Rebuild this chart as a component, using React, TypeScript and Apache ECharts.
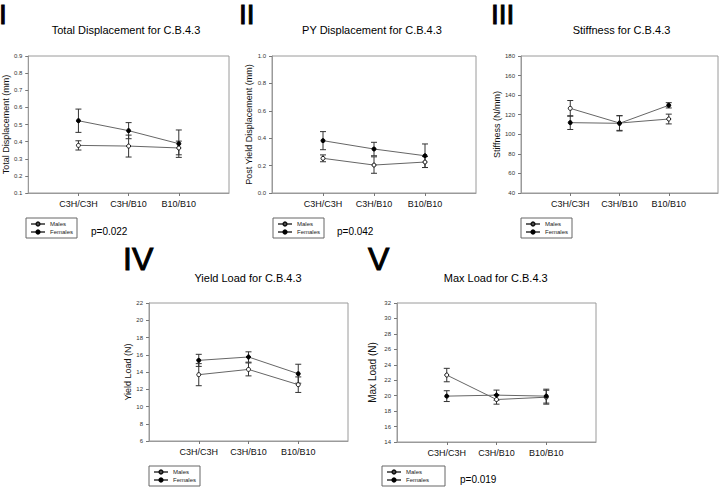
import React, { useEffect, useRef } from "react";
import * as echarts from "echarts";

const categories = ["C3H/C3H", "C3H/B10", "B10/B10"];
const axisCats = ["", ...categories, ""];

const totalMales = [0.378, 0.374, 0.363];
const totalMalesErr = [0.027, 0.064, 0.04];
const totalFemales = [0.522, 0.464, 0.388];
const totalFemalesErr = [0.068, 0.047, 0.08];

const pyMales = [0.253, 0.204, 0.226];
const pyMalesErr = [0.025, 0.06, 0.04];
const pyFemales = [0.382, 0.321, 0.272];
const pyFemalesErr = [0.066, 0.049, 0.086];

const stiffMales = [126.5, 111.5, 115.6];
const stiffMalesErr = [8, 7.5, 5];
const stiffFemales = [111.9, 111.2, 129.6];
const stiffFemalesErr = [7, 7.8, 2.7];

const yieldMales = [13.69, 14.3, 12.53];
const yieldMalesErr = [1.28, 0.75, 0.9];
const yieldFemales = [15.35, 15.74, 13.8];
const yieldFemalesErr = [0.7, 0.6, 1.1];

const maxMales = [22.67, 19.5, 19.8];
const maxMalesErr = [0.87, 0.6, 0.9];
const maxFemales = [19.94, 20.07, 19.94];
const maxFemalesErr = [0.7, 0.65, 0.9];

const FONT = "'Liberation Sans', Arial, sans-serif";

const panels = [
  {
    numeral: "I", numX: -1, numY: 14, numSize: 28,
    title: "Total Displacement for C.B.4.3", titleX: 126, titleY: 30,
    yName: "Total Displacement (mm)", yNameSize: 9, yGap: 18,
    grid: { left: 25, top: 56, width: 204, height: 137 },
    yMin: 0.1, yMax: 0.9, yInt: 0.1, dec: 1,
    males: totalMales, malesErr: totalMalesErr, females: totalFemales, femalesErr: totalFemalesErr,
    legend: { left: 26, top: 218, padR: 4 },
    p: "p=0.022", pX: 91, pY: 231,
  },
  {
    numeral: "II", numX: 239, numY: 14, numSize: 28,
    title: "PY Displacement for C.B.4.3", titleX: 372, titleY: 30,
    yName: "Post Yield Displacement (mm)", yNameSize: 9, yGap: 18,
    grid: { left: 272, top: 56, width: 204, height: 137 },
    yMin: 0, yMax: 1.0, yInt: 0.2, dec: 1,
    males: pyMales, malesErr: pyMalesErr, females: pyFemales, femalesErr: pyFemalesErr,
    legend: { left: 273, top: 218, padR: 4 },
    p: "p=0.042", pX: 337, pY: 231,
  },
  {
    numeral: "III", numX: 491, numY: 14, numSize: 28,
    title: "Stiffness for C.B.4.3", titleX: 621.5, titleY: 30,
    yName: "Stiffness (N/mm)", yNameSize: 9, yGap: 19,
    grid: { left: 521, top: 56, width: 199, height: 137 },
    yMin: 40, yMax: 180, yInt: 20, dec: 0,
    males: stiffMales, malesErr: stiffMalesErr, females: stiffFemales, femalesErr: stiffFemalesErr,
    legend: { left: 521, top: 218, padR: 4 },
    p: "", pX: 0, pY: 0,
  },
  {
    numeral: "IV", numX: 123, numY: 258.5, numSize: 32,
    title: "Yield Load for C.B.4.3", titleX: 248, titleY: 277.7,
    yName: "Yield Load (N)", yNameSize: 9, yGap: 17,
    grid: { left: 149, top: 303, width: 199, height: 138 },
    yMin: 6, yMax: 22, yInt: 2, dec: 0,
    males: yieldMales, malesErr: yieldMalesErr, females: yieldFemales, femalesErr: yieldFemalesErr,
    legend: { left: 149, top: 466, padR: 4 },
    p: "", pX: 0, pY: 0,
  },
  {
    numeral: "V", numX: 368, numY: 259, numSize: 32,
    title: "Max Load for C.B.4.3", titleX: 495.7, titleY: 277.7,
    yName: "Max Load (N)", yNameSize: 10, yGap: 20,
    grid: { left: 397, top: 303, width: 199, height: 139 },
    yMin: 14, yMax: 32, yInt: 2, dec: 0,
    males: maxMales, malesErr: maxMalesErr, females: maxFemales, femalesErr: maxFemalesErr,
    legend: { left: 382, top: 466, padR: 16 },
    p: "p=0.019", pX: 460, pY: 479,
  },
];

const errorRender = (params: any, api: any) => {
  const x = api.value(0);
  const lo = api.value(1);
  const hi = api.value(2);
  const p1 = api.coord([x, lo]);
  const p2 = api.coord([x, hi]);
  const hw = 3;
  const style = { stroke: "#333", lineWidth: 1 };
  return {
    type: "group",
    children: [
      { type: "line", shape: { x1: p1[0], y1: p1[1], x2: p2[0], y2: p2[1] }, style },
      { type: "line", shape: { x1: p1[0] - hw, y1: p1[1], x2: p1[0] + hw, y2: p1[1] }, style },
      { type: "line", shape: { x1: p2[0] - hw, y1: p2[1], x2: p2[0] + hw, y2: p2[1] }, style },
    ],
  };
};

export default function App() {
  const ref = useRef<HTMLDivElement>(null);
  useEffect(() => {
    if (!ref.current) return;
    const chart = echarts.init(ref.current, undefined, { renderer: "svg" });

    const grid: any[] = [];
    const xAxis: any[] = [];
    const yAxis: any[] = [];
    const series: any[] = [];
    const legend: any[] = [];
    const graphic: any[] = [];

    panels.forEach((p, i) => {
      grid.push({ ...p.grid, show: true, borderColor: "#9a9a9a", borderWidth: 1, backgroundColor: "transparent" });
      xAxis.push({
        gridIndex: i,
        type: "category",
        data: axisCats,
        boundaryGap: false,
        axisLine: { lineStyle: { color: "#9a9a9a", width: 1 } },
        axisTick: { show: true, length: 3, inside: false, interval: (idx: number) => idx >= 1 && idx <= 3, lineStyle: { color: "#777" } },
        axisLabel: { fontSize: 9, fontFamily: FONT, color: "#111", margin: 6, interval: 0 },
        splitLine: { show: false },
      });
      yAxis.push({
        gridIndex: i,
        type: "value",
        min: p.yMin,
        max: p.yMax,
        interval: p.yInt,
        name: p.yName,
        nameLocation: "middle",
        nameRotate: 90,
        nameGap: p.yGap,
        nameTextStyle: { fontSize: p.yNameSize, fontFamily: FONT, color: "#111" },
        axisLine: { show: true, lineStyle: { color: "#9a9a9a", width: 1 } },
        axisTick: { show: true, length: 3, inside: false, lineStyle: { color: "#777" } },
        axisLabel: {
          fontSize: 6,
          fontFamily: FONT,
          color: "#333",
          margin: 6,
          formatter: (v: number) => v.toFixed(p.dec),
        },
        splitLine: { show: false },
      });

      const mk = (arr: number[]) => arr.map((v, k) => [k + 1, v]);
      const mkErr = (arr: number[], err: number[]) => arr.map((v, k) => [k + 1, v - err[k], v + err[k]]);

      series.push({
        type: "custom",
        name: "errM" + i,
        xAxisIndex: i,
        yAxisIndex: i,
        renderItem: errorRender,
        encode: { x: 0, y: [1, 2] },
        data: mkErr(p.males, p.malesErr),
        z: 1,
        silent: true,
      });
      series.push({
        type: "custom",
        name: "errF" + i,
        xAxisIndex: i,
        yAxisIndex: i,
        renderItem: errorRender,
        encode: { x: 0, y: [1, 2] },
        data: mkErr(p.females, p.femalesErr),
        z: 1,
        silent: true,
      });
      series.push({
        type: "line",
        name: "Males",
        xAxisIndex: i,
        yAxisIndex: i,
        data: mk(p.males),
        symbol: "circle",
        symbolSize: 4,
        showAllSymbol: true,
        lineStyle: { color: "#666", width: 1 },
        itemStyle: { color: "#fff", borderColor: "#111", borderWidth: 1 },
        z: 3,
      });
      series.push({
        type: "line",
        name: "Females",
        xAxisIndex: i,
        yAxisIndex: i,
        data: mk(p.females),
        symbol: "circle",
        symbolSize: 4,
        showAllSymbol: true,
        lineStyle: { color: "#666", width: 1 },
        itemStyle: { color: "#000", borderColor: "#000", borderWidth: 1 },
        z: 4,
      });

      legend.push({
        data: ["Males", "Females"],
        orient: "vertical",
        left: p.legend.left,
        top: p.legend.top,
        itemWidth: 14,
        itemHeight: 4,
        itemGap: 2,
        padding: [3, p.legend.padR, 3, 4],
        borderColor: "#666",
        borderWidth: 1,
        selectedMode: false,
        textStyle: { fontSize: 6, fontFamily: FONT, color: "#222" },
      });

      graphic.push({
        type: "text",
        x: p.numX,
        y: p.numY,
        style: {
          text: p.numeral,
          font: `${p.numSize}px ${FONT}`,
          fill: "#000",
          stroke: "#000",
          lineWidth: 1,
          align: "left",
          verticalAlign: "middle",
        },
      });
      graphic.push({
        type: "text",
        x: p.titleX,
        y: p.titleY,
        style: { text: p.title, font: `11px ${FONT}`, fill: "#000", align: "center", verticalAlign: "middle" },
      });
      if (p.p) {
        graphic.push({
          type: "text",
          x: p.pX,
          y: p.pY,
          style: { text: p.p, font: `10px ${FONT}`, fill: "#000", align: "left", verticalAlign: "middle" },
        });
      }
    });

    chart.setOption({
      animation: false,
      backgroundColor: "#fff",
      grid,
      xAxis,
      yAxis,
      series,
      legend,
      graphic,
    });
    return () => chart.dispose();
  }, []);

  return (
    <div
      ref={ref}
      style={{ position: "absolute", left: 0, top: 0, width: 721, height: 488 }}
    />
  );
}
